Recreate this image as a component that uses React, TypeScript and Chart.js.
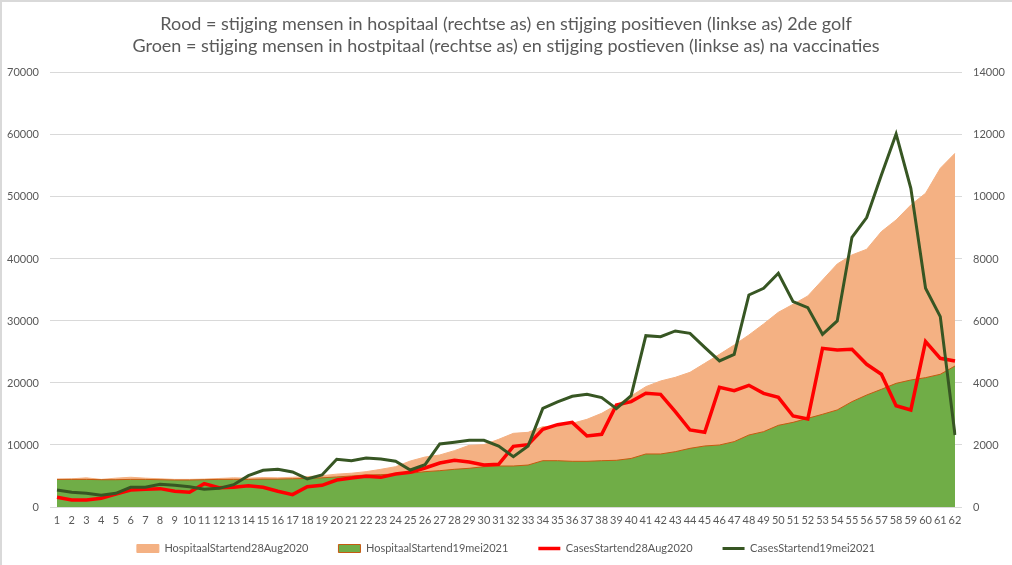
import { useEffect, useRef } from "react";
import { Chart, registerables } from "chart.js";

Chart.register(...registerables);

// x-axis categories (days since start)
const days = [
  "1", "2", "3", "4", "5", "6", "7", "8", "9", "10",
  "11", "12", "13", "14", "15", "16", "17", "18", "19", "20",
  "21", "22", "23", "24", "25", "26", "27", "28", "29", "30",
  "31", "32", "33", "34", "35", "36", "37", "38", "39", "40",
  "41", "42", "43", "44", "45", "46", "47", "48", "49", "50",
  "51", "52", "53", "54", "55", "56", "57", "58", "59", "60",
  "61", "62",
];

// hospital series (right axis)
const hospitaal2020 = [
  900, 910, 940, 890, 930, 960, 930, 910, 890, 890,
  900, 920, 940, 930, 950, 940, 960, 980, 1010, 1060,
  1090, 1140, 1216, 1300, 1484, 1612, 1678, 1818, 1990, 2010,
  2182, 2376, 2408, 2592, 2612, 2698, 2828, 3022, 3290, 3580,
  3882, 4064, 4182, 4344, 4634, 4924, 5226, 5548, 5904, 6280,
  6538, 6806, 7322, 7838, 8130, 8312, 8882, 9258, 9742, 10118,
  10924, 11408,
];

const hospitaal2021 = [
  890, 890, 890, 880, 880, 890, 890, 880, 870, 870,
  880, 890, 890, 890, 900, 900, 910, 920, 940, 970,
  1000, 1032, 1044, 1064, 1086, 1140, 1172, 1216, 1248, 1300,
  1322, 1322, 1354, 1494, 1494, 1474, 1474, 1494, 1506, 1566,
  1710, 1710, 1784, 1892, 1968, 2000, 2108, 2322, 2430, 2634,
  2730, 2860, 2990, 3130, 3398, 3612, 3796, 3988, 4096, 4172,
  4280, 4548,
];

// positive cases (left axis)
const cases2020 = [
  1560, 1130, 1130, 1400, 2100, 2740, 2850, 2960, 2530, 2370,
  3760, 3120, 3170, 3440, 3170, 2530, 1990, 3280, 3490, 4350,
  4680, 4950, 4780, 5320, 5590, 6290, 7100, 7530, 7260, 6770,
  6880, 9780, 10050, 12530, 13280, 13650, 11450, 11720, 16450, 16990,
  18330, 18170, 15380, 12420, 12040, 19300, 18760, 19620, 18330, 17690,
  14680, 14190, 25590, 25320, 25430, 23010, 21400, 16340, 15650, 26670,
  23980, 23550,
];

const cases2021 = [
  2740, 2370, 2200, 1880, 2200, 3170, 3170, 3650, 3490, 3280,
  2850, 3010, 3600, 5050, 5910, 6080, 5650, 4520, 5160, 7690,
  7470, 7900, 7740, 7370, 5970, 6830, 10160, 10430, 10750, 10750,
  9840, 8120, 9840, 15900, 16940, 17850, 18170, 17640, 15860, 17960,
  27630, 27470, 28390, 28010, 25750, 23550, 24620, 34190, 35270, 37690,
  33120, 32150, 27850, 30000, 43500, 46670, 53550, 60160, 51400, 35270,
  30700, 11610,
];

const titleLines = [
  "Rood = stijging mensen in hospitaal (rechtse as) en stijging positieven (linkse as) 2de golf",
  "Groen = stijging mensen in hostpitaal (rechtse as) en stijging postieven (linkse as) na vaccinaties",
];

const textColor = "#595959";
const gridColor = "#d9d9d9";
const fontFamily = "Lato, 'Open Sans', sans-serif";

// the legend keeps wide gaps between items, so pull its top up a bit once laid out
const legendLift = {
  id: "legendLift",
  afterLayout(chart: any) {
    const lg = chart.legend;
    if (lg) lg.top -= 16;
  },
};

const App = () => {
  const canvasRef = useRef<HTMLCanvasElement | null>(null);
  const chartRef = useRef<Chart | null>(null);

  useEffect(() => {
    if (!canvasRef.current) return;
    if (chartRef.current) chartRef.current.destroy();

    const tickFont = { family: fontFamily, size: 11 };
    const plainNumber = (v: any) => String(v);

    chartRef.current = new Chart(canvasRef.current, {
      type: "line",
      data: {
        labels: days,
        datasets: [
          {
            label: "HospitaalStartend28Aug2020",
            data: hospitaal2020,
            yAxisID: "y1",
            fill: "origin",
            backgroundColor: "#F4B183",
            borderColor: "#F4B183",
            borderWidth: 1,
            pointRadius: 0,
            pointStyle: "rect",
            tension: 0,
            order: 4,
          },
          {
            label: "HospitaalStartend19mei2021",
            data: hospitaal2021,
            yAxisID: "y1",
            fill: "origin",
            backgroundColor: "#70AD47",
            borderColor: "#C55A11",
            borderWidth: 1,
            pointRadius: 0,
            pointStyle: "rect",
            tension: 0,
            order: 3,
          },
          {
            label: "CasesStartend28Aug2020",
            data: cases2020,
            yAxisID: "y",
            fill: false,
            borderColor: "#FF0000",
            backgroundColor: "#FF0000",
            borderWidth: 3.5,
            pointRadius: 0,
            pointStyle: "line",
            tension: 0,
            order: 1,
          },
          {
            label: "CasesStartend19mei2021",
            data: cases2021,
            yAxisID: "y",
            fill: false,
            borderColor: "#375623",
            backgroundColor: "#375623",
            borderWidth: 3,
            pointRadius: 0,
            pointStyle: "line",
            tension: 0,
            order: 0,
          },
        ],
      },
      options: {
        responsive: false,
        animation: false,
        events: [],
        layout: { padding: 0 },
        plugins: {
          title: {
            display: true,
            text: titleLines,
            color: textColor,
            font: { family: fontFamily, size: 18, weight: "normal", lineHeight: 1.22 },
            padding: { top: 13, bottom: 16 },
          },
          legend: {
            position: "bottom",
            maxHeight: 36,
            labels: {
              usePointStyle: true,
              pointStyleWidth: 22,
              boxHeight: 8,
              padding: 30,
              color: textColor,
              font: { family: fontFamily, size: 11 },
              sort: (a: any, b: any) => a.datasetIndex - b.datasetIndex,
            },
          },
          tooltip: { enabled: false },
        },
        scales: {
          x: {
            offset: false,
            grid: { display: false, drawTicks: false },
            border: { display: false },
            ticks: {
              autoSkip: false,
              maxRotation: 0,
              color: textColor,
              font: tickFont,
              padding: 7,
            },
            afterFit: (s: any) => {
              s.height = 22;
            },
          },
          y: {
            position: "left",
            min: 0,
            max: 70000,
            ticks: {
              stepSize: 10000,
              padding: 11,
              color: textColor,
              font: tickFont,
              callback: plainNumber,
            },
            grid: { color: gridColor, tickColor: gridColor, tickLength: 7 },
            border: { display: false },
            afterFit: (s: any) => {
              s.width = 57;
            },
          },
          y1: {
            position: "right",
            min: 0,
            max: 14000,
            ticks: {
              stepSize: 2000,
              padding: 11,
              color: textColor,
              font: tickFont,
              callback: plainNumber,
            },
            grid: { drawOnChartArea: false, tickColor: gridColor, tickLength: 7 },
            border: { display: false },
            afterFit: (s: any) => {
              s.width = 57;
            },
          },
        },
      },
      plugins: [legendLift],
    });

    return () => {
      if (chartRef.current) {
        chartRef.current.destroy();
        chartRef.current = null;
      }
    };
  }, []);

  return (
    <div
      style={{
        position: "fixed",
        left: 0,
        top: 0,
        width: 1012,
        height: 565,
        background: "#fff",
        boxShadow: "inset 2px 2px 0 #d9d9d9",
      }}
    >
      <canvas ref={canvasRef} width={1012} height={565} />
    </div>
  );
};

export default App;
